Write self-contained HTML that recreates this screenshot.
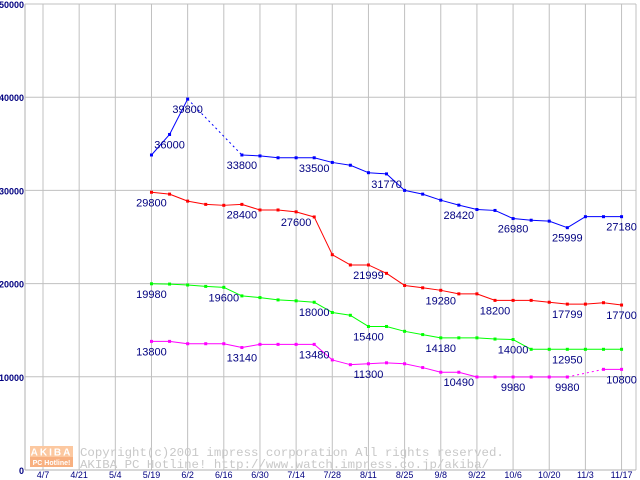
<!DOCTYPE html>
<html><head><meta charset="utf-8"><style>
html,body{margin:0;padding:0;background:#fff;width:640px;height:480px;overflow:hidden}
svg{display:block}
</style></head><body>
<svg id="chart" width="640" height="480" xmlns="http://www.w3.org/2000/svg">
<g id="grid"></g>
<g id="wm">
  <rect x="30" y="446" width="43" height="11" fill="#fcc8a0"/>
  <text x="51.5" y="455.5" text-anchor="middle" font-family="Liberation Sans, sans-serif" font-size="10" font-weight="bold" fill="#fff" letter-spacing="2">AKIBA</text>
  <rect x="30" y="457" width="43" height="10" fill="#f8b080"/>
  <text x="51.5" y="465" text-anchor="middle" font-family="Liberation Sans, sans-serif" font-size="7" font-weight="bold" fill="#fff">PC Hotline!</text>
  <text x="80" y="456" font-family="Liberation Mono, monospace" font-size="12.4" fill="#c8c8c8">Copyright(c)2001 impress corporation All rights reserved.</text>
  <text x="80" y="468" font-family="Liberation Mono, monospace" font-size="12.4" fill="#c8c8c8">AKIBA PC Hotline!  http://www.watch.impress.co.jp/akiba/</text>
</g>
<g id="axes"></g>
<g id="series"></g>
<g id="labels"></g>
</svg>
<script>
const xTickLabels = ["4/7","4/21","5/4","5/19","6/2","6/16","6/30","7/14","7/28","8/11","8/25","9/8","9/22","10/6","10/20","11/3","11/17"];
const yTicks = [0,10000,20000,30000,40000,50000];
const N = null;
const blueValues = [N,N,N,N,N,N,33800,36000,39800,N,N,33800,33700,33500,33500,33500,33000,32700,31900,31770,30000,29600,28950,28420,27950,27850,26980,26800,26700,25999,27180,27180,27180];
const redValues = [N,N,N,N,N,N,29800,29600,28850,28500,28400,28500,27900,27900,27700,27150,23100,22000,21999,21100,19800,19550,19280,18900,18900,18200,18200,18200,18000,17799,17799,17950,17700];
const greenValues = [N,N,N,N,N,N,19980,19950,19850,19700,19600,18680,18500,18250,18150,18000,16900,16600,15400,15400,14880,14530,14180,14180,14180,14050,14000,12950,12950,12950,12950,12950,12950];
const magentaValues = [N,N,N,N,N,N,13800,13800,13550,13550,13550,13140,13480,13480,13480,13480,11810,11300,11400,11500,11400,10990,10490,10490,9980,9980,9980,9980,9980,9980,N,10800,10800];
const blueLabels = [[7,"36000"],[8,"39800"],[11,"33800"],[15,"33500"],[19,"31770"],[23,"28420"],[26,"26980"],[29,"25999"],[32,"27180"]];
const redLabels = [[6,"29800"],[11,"28400"],[14,"27600"],[18,"21999"],[22,"19280"],[25,"18200"],[29,"17799"],[32,"17700"]];
const greenLabels = [[6,"19980"],[10,"19600"],[15,"18000"],[18,"15400"],[22,"14180"],[26,"14000"],[29,"12950"]];
const magentaLabels = [[6,"13800"],[11,"13140"],[15,"13480"],[18,"11300"],[23,"10490"],[26,"9980"],[29,"9980"],[32,"10800"]];

const NS="http://www.w3.org/2000/svg";
const X0=25, X1=636, Y0=470;
function xScale(w){return 43+w*18.08;}
function yScale(v){return Y0 - v*0.00932;}
function mk(tag,attrs,parent){const e=document.createElementNS(NS,tag);for(const k in attrs)e.setAttribute(k,attrs[k]);parent.appendChild(e);return e;}
const grid=document.getElementById('grid'), axes=document.getElementById('axes'), series=document.getElementById('series'), labels=document.getElementById('labels');

yTicks.forEach(function(t){
  const y=yScale(t);
  if(t>0){
    const l=mk('line',{x1:X0,x2:X1,y1:y,y2:y,stroke:'#c0c0c0','stroke-width':1},grid);
    
    
  }
  const tx=mk('text',{x:24,y:y+4,'text-anchor':'end','font-family':'Liberation Sans, sans-serif','font-size':9,'font-weight':'bold',fill:'#000080'},axes);
  tx.textContent=String(t);
  
  
});
xTickLabels.forEach(function(lbl,i){
  const x=xScale(i*2);
  const l=mk('line',{x1:x,x2:x,y1:4,y2:Y0,stroke:'#c0c0c0','stroke-width':1},grid);
  
  
  const tx=mk('text',{x:x,y:478,'text-anchor':'middle','font-family':'Liberation Sans, sans-serif','font-size':9,fill:'#000080'},axes);
  tx.textContent=lbl;
  
  
});
const rb=mk('line',{x1:X1,x2:X1,y1:4,y2:Y0,stroke:'#c0c0c0'},grid);


const ya=mk('line',{x1:X0,x2:X0,y1:4,y2:Y0,stroke:'#b0b0b0'},axes);


const xa=mk('line',{x1:X0,x2:X1,y1:Y0,y2:Y0,stroke:'#b0b0b0'},axes);



function drawSeries(vals,color,name,lbls){
  let prev=-1;
  for(let i=0;i<vals.length;i++){
    if(vals[i]===null) continue;
    if(prev>=0){
      const dashed=(i-prev)>1;
      const ln=mk('line',{x1:xScale(prev),y1:yScale(vals[prev]),x2:xScale(i),y2:yScale(vals[i]),stroke:color,'stroke-width':1,'stroke-dasharray':dashed?'2,3':'none'},series);
      
      
    }
    prev=i;
  }
  vals.forEach(function(v,i){
    if(v===null) return;
    const r=mk('rect',{x:xScale(i)-1.5,y:yScale(v)-1.5,width:3,height:3,fill:color},series);
    
    
  });
  lbls.forEach(function(p){
    const w=p[0], v=vals[w];
    const t=mk('text',{x:xScale(w),y:yScale(v)+14,'text-anchor':'middle','font-family':'Liberation Sans, sans-serif','font-size':11,fill:'#000080'},labels);
    t.textContent=p[1];
    
    
  });
}
drawSeries(blueValues,'#0000ff','blue-series',blueLabels);
drawSeries(redValues,'#ff0000','red-series',redLabels);
drawSeries(greenValues,'#00ff00','green-series',greenLabels);
drawSeries(magentaValues,'#ff00ff','magenta-series',magentaLabels);
</script>
</body></html>
